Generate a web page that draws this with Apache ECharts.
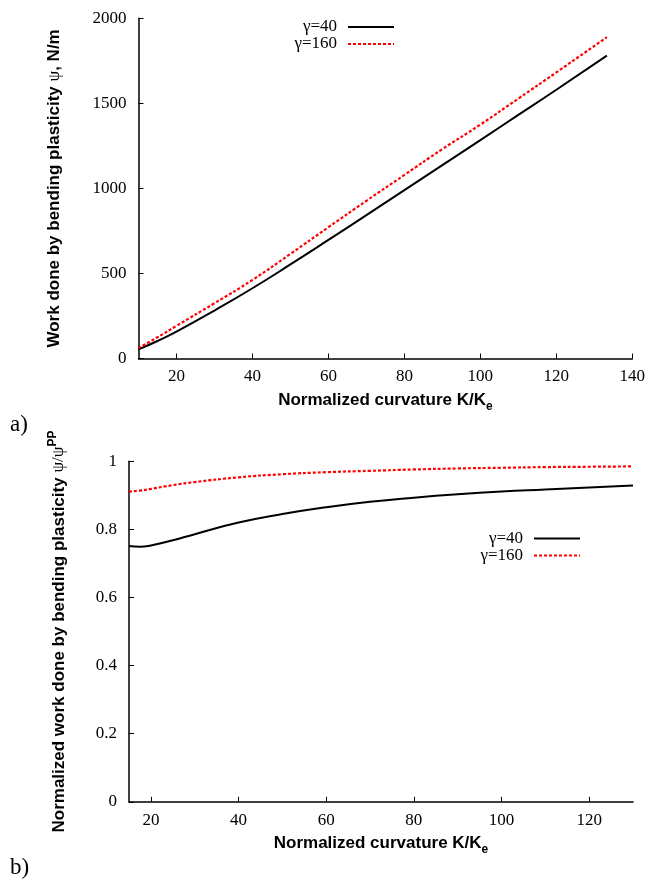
<!DOCTYPE html>
<html>
<head>
<meta charset="utf-8">
<script src="https://cdn.jsdelivr.net/npm/echarts@6/dist/echarts.min.js"></script>
<style>
  html, body { margin: 0; padding: 0; background: #fff; }
  #chart { width: 649px; height: 882px; }
</style>
</head>
<body>
<div id="chart"></div>
<script>
// panel a) work done vs normalized curvature
var curvA = [10, 15, 20, 30, 40, 50, 60, 70, 80, 90, 100, 110, 120, 133.3];
var workG40 = [54, 103, 158, 282, 413, 553, 697, 843, 990, 1137, 1284, 1432, 1580, 1781];
var workG160 = [62, 125, 192, 325, 462, 615, 772, 927, 1079, 1231, 1375, 1528, 1682, 1889];
var ticksA = [20, 40, 60, 80, 100, 120, 140];

// panel b) normalized work vs normalized curvature
var curvB = [15, 17.5, 20, 25, 30, 40, 50, 60, 70, 80, 90, 100, 110, 120, 130];
var normG40 = [0.751, 0.749, 0.753, 0.768, 0.786, 0.820, 0.845, 0.865, 0.881, 0.893, 0.903, 0.911, 0.917, 0.923, 0.929];
var normG160 = [0.911, 0.914, 0.919, 0.930, 0.939, 0.953, 0.962, 0.968, 0.972, 0.976, 0.979, 0.981, 0.983, 0.984, 0.985];
var ticksB = [20, 40, 60, 80, 100, 120];

var names = ["γ=40", "γ=160"];

function pairs(xs, ys) {
  var out = [];
  for (var i = 0; i < xs.length; i++) {
    out.push([xs[i], ys[i]]);
  }
  return out;
}

var serif = "Liberation Serif";
var sans = "Liberation Sans";

var titleRich = {
  b: { fontFamily: sans, fontWeight: "bold", fontSize: 17, color: "#000", lineHeight: 24 },
  psi: { fontFamily: serif, fontWeight: "normal", fontSize: 17, color: "#000", lineHeight: 24 },
  sub: { fontFamily: sans, fontWeight: "bold", fontSize: 12, color: "#000", lineHeight: 12, verticalAlign: "bottom" },
  sup: { fontFamily: sans, fontWeight: "bold", fontSize: 12, color: "#000", lineHeight: 12, verticalAlign: "top" }
};

var axisLine = { show: true, lineStyle: { color: "#000", width: 1.5 } };
var axisTick = { show: true, inside: true, length: 5, lineStyle: { color: "#000", width: 1 } };
var tickFont = { fontFamily: serif, fontSize: 17, color: "#000" };

function plain(v) {
  return String(v);
}

function xAxis(idx, min, max, ticks, gap) {
  return {
    type: "value",
    gridIndex: idx,
    min: min,
    max: max,
    name: "{b|Normalized curvature K/K}{sub|e}",
    nameLocation: "middle",
    nameGap: gap,
    nameTextStyle: { rich: titleRich },
    axisLine: axisLine,
    axisTick: Object.assign({}, axisTick, { customValues: ticks }),
    axisLabel: Object.assign({}, tickFont, { margin: 10, customValues: ticks, formatter: plain }),
    splitLine: { show: false }
  };
}

function legend(right, top) {
  return {
    data: names,
    orient: "vertical",
    align: "right",
    right: right,
    top: top,
    itemWidth: 46,
    itemHeight: 14,
    itemGap: 0,
    itemStyle: { opacity: 0 },
    textStyle: { fontFamily: serif, fontSize: 17, lineHeight: 15, color: "#000", padding: [0, 6, 0, 0] },
    selectedMode: false
  };
}

var chart = echarts.init(document.getElementById("chart"), null, { renderer: "canvas" });

var option = {
  backgroundColor: "#fff",
  animation: false,
  grid: [
    { left: 138.5, right: 16.7, top: 18.3, height: 340.2, outerBoundsMode: "none" },
    { left: 129, right: 16, top: 461.3, height: 340.5, outerBoundsMode: "none" }
  ],
  xAxis: [
    xAxis(0, 10, 140, ticksA, 30),
    xAxis(1, 15, 130, ticksB, 30)
  ],
  yAxis: [
    {
      type: "value",
      gridIndex: 0,
      min: 0,
      max: 2000,
      interval: 500,
      name: "{b|Work done by bending plasticity }{psi|ψ}{b|, N/m}",
      nameLocation: "middle",
      nameGap: 72,
      nameRotate: 90,
      nameTextStyle: { rich: titleRich },
      axisLine: axisLine,
      axisTick: axisTick,
      axisLabel: Object.assign({}, tickFont, { margin: 12, formatter: plain }),
      splitLine: { show: false }
    },
    {
      type: "value",
      gridIndex: 1,
      min: 0,
      max: 1,
      interval: 0.2,
      name: "{b|Normalized work done by bending plasticity }{psi|ψ/ψ}{sup|PP}",
      nameLocation: "middle",
      nameGap: 58,
      nameRotate: 90,
      nameTextStyle: { rich: titleRich },
      axisLine: axisLine,
      axisTick: axisTick,
      axisLabel: Object.assign({}, tickFont, { margin: 12, formatter: plain }),
      splitLine: { show: false }
    }
  ],
  legend: [legend(249, 13.5), legend(63, 525)],
  graphic: [
    { type: "text", left: 10, top: 413, style: { text: "a)", font: "23px " + serif, fill: "#000" } },
    { type: "text", left: 10, top: 856, style: { text: "b)", font: "23px " + serif, fill: "#000" } }
  ],
  series: [
    {
      name: names[0], type: "line", xAxisIndex: 0, yAxisIndex: 0,
      data: pairs(curvA, workG40), smooth: true, symbol: "none",
      lineStyle: { color: "#000", width: 2, type: "solid" }, itemStyle: { color: "#000" }
    },
    {
      name: names[1], type: "line", xAxisIndex: 0, yAxisIndex: 0,
      data: pairs(curvA, workG160), smooth: true, symbol: "none",
      lineStyle: { color: "#ff0000", width: 2.2, type: [3, 2] }, itemStyle: { color: "#ff0000" }
    },
    {
      name: names[0], type: "line", xAxisIndex: 1, yAxisIndex: 1,
      data: pairs(curvB, normG40), smooth: true, symbol: "none",
      lineStyle: { color: "#000", width: 2, type: "solid" }, itemStyle: { color: "#000" }
    },
    {
      name: names[1], type: "line", xAxisIndex: 1, yAxisIndex: 1,
      data: pairs(curvB, normG160), smooth: true, symbol: "none",
      lineStyle: { color: "#ff0000", width: 2.2, type: [3, 2] }, itemStyle: { color: "#ff0000" }
    }
  ]
};

chart.setOption(option);
</script>
</body>
</html>
